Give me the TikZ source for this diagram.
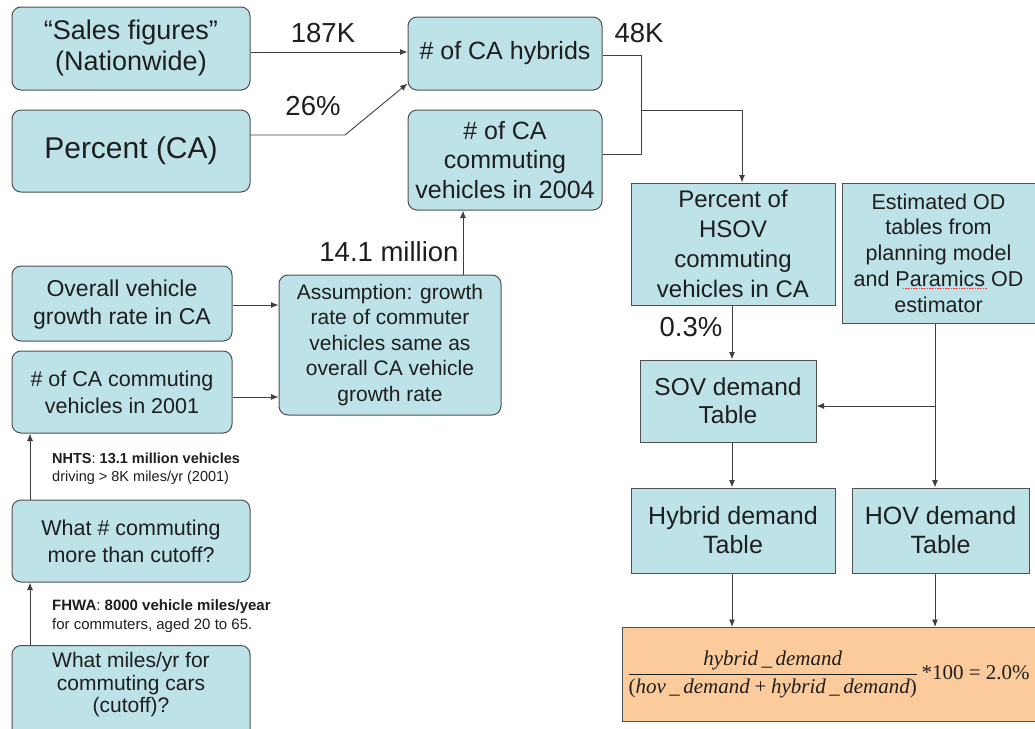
\documentclass[tikz,border=0pt]{standalone}
\usepackage{fontspec}
\setmainfont{Liberation Sans}
\newfontfamily\timesf{Liberation Serif}
\usetikzlibrary{arrows.meta,calc}
\definecolor{boxfill}{HTML}{BDE3E9}
\definecolor{peach}{HTML}{FBCB9C}
\definecolor{edge}{HTML}{505050}
\definecolor{ink}{HTML}{1E1E1E}
\begin{document}
\begin{tikzpicture}[x=1pt,y=-1pt,
  base/.style={draw=edge, fill=boxfill, line width=1pt, align=center, inner sep=0pt, text=ink},
  rbox/.style={base, rounded corners=9pt},
  sbox/.style={base},
  fs/.style 2 args={font=\fontsize{#1}{#2}\selectfont},
  arr/.style={draw=ink!85, line width=0.9pt, -{Latex[length=7.5pt,width=6pt]}},
  ln/.style={draw=ink!85, line width=0.9pt},
  lbl/.style={text=ink, inner sep=0pt, font=\fontsize{27.5}{30}\selectfont},
  note/.style={text=ink, inner sep=0pt, align=left, anchor=west},
  btext/.style={text=ink, inner sep=0pt, align=center},
]
\useasboundingbox (0,0) rectangle (1035,728);
\clip (0,0) rectangle (1035,728);
\fill[white] (0,0) rectangle (1035,728);

% left column
\node[rbox, minimum width=238pt, minimum height=83pt, fs={27}{31}] (sales) at (131,48.5) {“Sales figures”\\(Nationwide)};
\node[rbox, minimum width=238pt, minimum height=82pt, fs={30}{32}] (pct) at (131,151) {Percent (CA)};
\node[rbox, minimum width=194pt, minimum height=73pt, fs={25}{29}] (hyb) at (505,53.5) {\# of CA hybrids};
\node[rbox, minimum width=194pt, minimum height=100pt, fs={25}{29.5}] (c04) at (505,160) {\# of CA\\commuting\\vehicles in 2004};
\node[rbox, minimum width=220pt, minimum height=75pt, fs={23}{28.5}, text depth=3pt] (ovr) at (122,303.5) {Overall vehicle\\growth rate in CA};
\node[rbox, minimum width=220pt, minimum height=82pt, fs={21.5}{27}] (c01) at (122,392) {\# of CA commuting\\vehicles in 2001};
\node[rbox, minimum width=222pt, minimum height=140pt, fs={21}{25.5}] (asm) at (390,345) {Assumption: growth\\rate of commuter\\vehicles same as\\overall CA vehicle\\growth rate};
\node[rbox, minimum width=238pt, minimum height=82pt, fs={21.5}{27}] (whc) at (131,541) {What \# commuting\\more than cutoff?};
\node[rbox, minimum width=238pt, minimum height=100pt, anchor=north] (mil) at (131,645) {};
\node[btext, fs={21}{22.5}] (miltxt) at (131,685) {What miles/yr for\\commuting cars\\(cutoff)?};

% right column
\node[sbox, minimum width=204pt, minimum height=122pt, fs={24}{30}] (hsov) at (733,244) {Percent of\\HSOV\\commuting\\vehicles in CA};
\node[sbox, minimum width=193pt, minimum height=140pt, fs={21.5}{25.7}] (od) at (938.5,253) {Estimated OD\\tables from\\planning model\\and Paramics OD\\estimator};
\node[sbox, minimum width=176pt, minimum height=82pt, fs={24.5}{28}] (sov) at (728,401) {SOV demand\\Table};
\node[sbox, minimum width=204pt, minimum height=85pt, fs={25}{29}] (hyd) at (733,530.5) {Hybrid demand\\Table};
\node[sbox, minimum width=177pt, minimum height=85pt, fs={25}{29}] (hov) at (940.5,530.5) {HOV demand\\Table};
\node[sbox, fill=peach, minimum width=418pt, minimum height=94pt, anchor=north west, font=\timesf\fontsize{21}{24}\selectfont] (form) at (622,627)
  {\hspace*{-6pt}$\displaystyle\frac{\mbox{\itshape hybrid\,\_\,demand}}{\mbox{(\itshape hov\,\_\,demand\,+\,hybrid\,\_\,demand\upshape)}}$\,*100 = 2.0\%};

% labels
\node[lbl] (l187) at (323,33) {187K};
\node[lbl] (l26) at (313,106) {26\%};
\node[lbl] (l48) at (639,33) {48K};
\node[lbl] (l141) at (389,252) {14.1 million};
\node[lbl] (l03) at (691,327) {0.3\%};
\node[note, font=\fontsize{14.5}{18}\selectfont] (nhts) at (52,469) {\textbf{NHTS}: \textbf{13.1 million vehicles}\\driving > 8K miles/yr (2001)};
\node[note, font=\fontsize{15}{19}\selectfont] (fhwa) at (52,616.5) {\textbf{FHWA}: \textbf{8000 vehicle miles/year}\\for commuters, aged 20 to 65.};

% spell-check underline
\draw[red!75, line width=0.6pt, densely dotted] (903,288) -- (987,288);

% connectors
\draw[arr] (sales.east |- 0,52) -- (hyb.west |- 0,52);
\coordinate (pbend) at (345,135);
\coordinate (pend) at ($(hyb.south west)+(0,-7)$);
\draw[arr] (pct.east |- pbend) -- (pbend) -- (pend);

\coordinate (jtop) at (641,55);
\coordinate (jbot) at (641,154);
\coordinate (jmid) at (641,110);
\coordinate (jturn) at (742,110);
\draw[ln] (hyb.east |- jtop) -- (jtop) -- (jbot) -- (c04.east |- jbot);
\draw[arr] (jmid) -- (jturn) -- (jturn |- hsov.north);

\coordinate (ax) at (463,0);
\draw[arr] (ax |- asm.north) -- (ax |- c04.south);
\draw[arr] (ovr.east |- 0,305) -- (asm.west |- 0,305);
\draw[arr] (c01.east |- 0,397) -- (asm.west |- 0,397);
\coordinate (lx) at (30,0);
\draw[arr] (lx |- whc.north) -- (lx |- c01.south);
\draw[arr] (lx |- mil.north) -- (lx |- whc.south);

\coordinate (mx) at (732,0);
\coordinate (rx) at (935,0);
\draw[arr] (mx |- hsov.south) -- (mx |- sov.north);
\draw[arr] (rx |- od.south) -- (rx |- hov.north);
\coordinate (br) at (935,406);
\draw[arr] (br) -- (sov.east |- br);
\draw[arr] (mx |- sov.south) -- (mx |- hyd.north);
\draw[arr] (mx |- hyd.south) -- (mx |- form.north);
\draw[arr] (rx |- hov.south) -- (rx |- form.north);
\end{tikzpicture}
\end{document}
